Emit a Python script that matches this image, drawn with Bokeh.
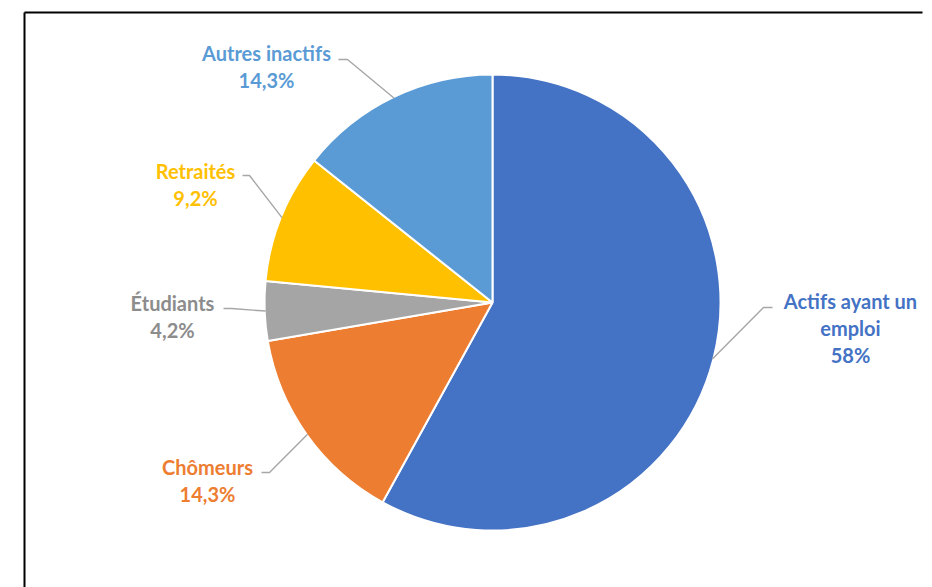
import numpy as np
from bokeh.plotting import figure
from bokeh.models import Range1d, ColumnDataSource
from bokeh.core.properties import value
from bokeh.embed import file_html
from bokeh.resources import INLINE

# ---- data ----
categories = ["Actifs ayant un\nemploi", "Chômeurs", "Étudiants", "Retraités", "Autres inactifs"]
shares = [58, 14.3, 4.2, 9.2, 14.3]
colors = ["#4472C4", "#ED7D31", "#A5A5A5", "#FFC000", "#5B9BD5"]
label_colors = ["#4472C4", "#ED7D31", "#8C8C8C", "#FFC000", "#5B9BD5"]

# ---- layout (pixel coordinates, y measured from top) ----
W, H = 932, 587
CX, CY_PX, R = 492, 302, 228
label_anchor = [(850, 300), (207, 466), (172, 302), (195, 170), (266, 52)]
leader_start = [[(772, 307), (763, 307)],
                [(261, 472), (269, 472)],
                [(223, 308), (231, 308)],
                [(242, 175), (249, 175)],
                [(338, 59), (347, 59)]]
LINE_GAP = 27
FONT = "Lato"
FONT_SIZE = "20px"


def fy(py):
    return H - py


CY = fy(CY_PX)
frac = np.array(shares, dtype=float) / sum(shares)
cum = np.cumsum(frac)
prev = cum - frac
start = np.pi / 2 - 2 * np.pi * prev
end = np.pi / 2 - 2 * np.pi * cum
mid = (start + end) / 2

p = figure(width=W, height=H, x_range=Range1d(0, W), y_range=Range1d(0, H),
           output_backend="svg", toolbar_location=None, min_border=0,
           x_axis_location=None, y_axis_location=None, outline_line_color=None,
           background_fill_color="white", border_fill_color="white")
p.grid.visible = False

# frame: only left and top edges fall inside the window
p.segment(x0=[24, 24], y0=[0, fy(12)], x1=[24, W - 10], y1=[fy(12), fy(12)],
          line_color="black", line_width=2, line_cap="butt")

src = ColumnDataSource(dict(start=start, end=end, color=colors))
p.wedge(x=CX, y=CY, radius=R, start_angle="start", end_angle="end",
        direction="clock", fill_color="color", line_color="white",
        line_width=2, source=src)

# leader lines
xs, ys = [], []
for i in range(len(shares)):
    ex = CX + (R - 1) * np.cos(mid[i])
    ey = CY + (R - 1) * np.sin(mid[i])
    pts = leader_start[i]
    xs.append([pts[0][0], pts[1][0], ex])
    ys.append([fy(pts[0][1]), fy(pts[1][1]), ey])
p.multi_line(xs, ys, line_color="#A6A6A6", line_width=1.4)


def fmt(v):
    return f"{v:g}".replace(".", ",") + "%"


tx, ty, tt, tc = [], [], [], []
for i, cat in enumerate(categories):
    lines = cat.split("\n") + [fmt(shares[i])]
    ax, ay = label_anchor[i]
    for j, ln in enumerate(lines):
        tx.append(ax)
        ty.append(fy(ay + j * LINE_GAP))
        tt.append(ln)
        tc.append(label_colors[i])

p.text(x=tx, y=ty, text=tt, text_color=tc, text_font=value(FONT),
       text_font_style="bold", text_font_size=FONT_SIZE,
       text_align="center", text_baseline="middle")

open("out.html", "w").write(file_html(p, INLINE))
